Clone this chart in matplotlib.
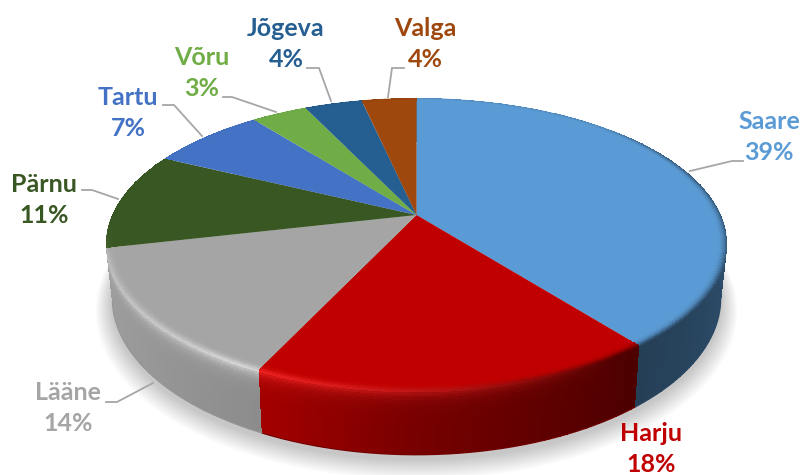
import numpy as np
import matplotlib
matplotlib.use("Agg")
import matplotlib.pyplot as plt
from matplotlib.colors import to_rgb
from matplotlib.patches import Polygon
from matplotlib.transforms import Transform

#Chart data, shares are a bit finer than the printed labels
counties=["Saare","Harju","Lääne","Pärnu","Tartu","Võru","Jõgeva","Valga"]
shares=[39.4,17.6,14.4,10.8,7.2,3.49,3.65,3.46]
percentLabels=["39%","18%","14%","11%","7%","3%","4%","4%"]
sliceColors=["#5B9BD5","#C00000","#A5A5A5","#385723","#4472C4","#70AD47","#255E91","#9E480E"]
textColors=["#5B9BD5","#C00000","#A5A5A5","#385723","#4472C4","#70AD47","#255E91","#9E480E"]

#Where the labels sit (pixels)
labelX=[769,651,68,44,128,202,286,425]
labelY=[137,449,408,200,113,73,44,44]

#Leader lines, Harju has none
leaders=[[(690,171),(732,161),(743,161)],
         None,
         [(153,383),(117,402),(106,402)],
         [(118,199),(92,190),(82,190)],
         [(202,136),(174,105),(163,105)],
         [(276,112),(232,97),(223,97)],
         [(331,101),(319,68),(307,68)],
         [(388,97),(392,68),(404,68)]]

#Pie geometry in pixels
cx=416.5
cy=215.0
rx=304.3
ry=140.2
tilt=0.1986
depth=52.0


def project(x,y,drop=0.0):
    #Unit circle to screen with a bit of perspective
    w=1+tilt*y
    shrink=1-0.02*drop/depth
    return cx+rx*x/w*shrink, cy-ry*y/w+drop/w


class Perspective(Transform):
    input_dims=2
    output_dims=2

    def transform_non_affine(self,values):
        values=np.asarray(values)
        X,Y=project(values[:,0],values[:,1])
        return np.column_stack([X,Y])


def sideShade(x):
    return np.interp(x,[-1,-0.4,0,0.6,0.8,1],[0.96,0.84,0.62,0.40,0.44,0.50])


def rimColor(base,x,y):
    #Colour right on the top edge: highlight in front left, dark on the right
    glow=np.interp(x,[-1,-0.5,0.1,0.55],[0.5,0.85,0.45,0.0])*np.interp(y,[-0.3,-0.05],[1,0])
    shade=sideShade(x)[...,None]
    col=base*shade
    lit=np.clip(base*1.12+0.16,0,1)
    return col+(lit-col)*glow[...,None]


def drawSide(ax,base,t1,t2):
    th=np.radians(np.linspace(t1,t2,max(int(t2-t1)*4,8)))
    drops=np.linspace(0,depth,27)
    TH,D=np.meshgrid(th,drops,indexing="ij")
    x=np.cos(TH)
    y=np.sin(TH)
    X,Y=project(x,y,D)
    base=np.array(base)
    side=base*sideShade(x)[...,None]
    rim=rimColor(base,x,y)
    u=np.exp(-D/5.0)[...,None]
    rgb=side+(rim-side)*u
    ax.pcolormesh(X,Y,rgb[:-1,:-1],shading="flat",zorder=2)
    #soften the bottom edge
    ax.plot(X[:,-1],Y[:,-1],color=tuple(base*np.mean(sideShade(x[:,-1]))),lw=0.8,zorder=2)


def drawBevel(ax,base,t1,t2):
    th=np.radians(np.linspace(t1,t2,max(int(t2-t1)*4,8)))
    radii=np.linspace(0.965,1.0,13)
    TH,R=np.meshgrid(th,radii,indexing="ij")
    cosT=np.cos(TH)
    sinT=np.sin(TH)
    X,Y=project(R*cosT,R*sinT)
    base=np.array(base)
    rim=rimColor(base,cosT,sinT)
    amount=np.maximum(np.interp(sinT,[-0.3,0.2],[1,0.25]),np.interp(cosT,[0.6,0.95],[0,1]))
    u=(((R-0.965)/0.035)**2.5*amount)[...,None]
    rgb=base+(rim-base)*u
    ax.pcolormesh(X,Y,rgb[:-1,:-1],shading="flat",zorder=4)


fig,ax=plt.subplots(figsize=(8.03,4.75),dpi=100)
fig.subplots_adjust(left=0,right=1,bottom=0,top=1)

wedges,_=ax.pie(shares,colors=sliceColors,startangle=90,counterclock=False)
ax.set_aspect("auto")
ax.set_xlim(0,803)
ax.set_ylim(475,0)
ax.axis("off")

persp=Perspective()+ax.transData
for wedge in wedges:
    wedge.set_transform(persp)
    wedge.set_zorder(3)
    wedge.set_linewidth(0)

#Soft shadow under the pie
ring=np.radians(np.linspace(0,360,240))
for i in range(14):
    grow=1+0.004*(14-i)
    sx,sy=project(grow*np.cos(ring),grow*np.sin(ring),depth+9-i*0.4)
    ax.add_patch(Polygon(np.column_stack([sx,sy]),closed=True,facecolor="black",alpha=0.014,lw=0,zorder=1))

#Side wall first, then the top, then the rounded edge
#Only the slices that face the viewer show a wall
for wedge,color in zip(wedges,sliceColors):
    mid=np.radians((wedge.theta1+wedge.theta2)/2)
    if np.sin(mid)<0 or np.cos(mid)>0:
        drawSide(ax,to_rgb(color),wedge.theta1,wedge.theta2)
    drawBevel(ax,to_rgb(color),wedge.theta1,wedge.theta2)

for line in leaders:
    if line is None:
        continue
    lx=[p[0] for p in line]
    ly=[p[1] for p in line]
    ax.plot(lx,ly,color="#A6A6A6",lw=1.3,zorder=5,solid_joinstyle="miter")

for i in range(len(counties)):
    ax.text(labelX[i],labelY[i],counties[i]+"\n"+percentLabels[i],color=textColors[i],
            family="Lato",weight="bold",fontsize=18,ha="center",va="center",
            linespacing=1.44,zorder=6,clip_on=False)

ax.set_xlim(0,803)
ax.set_ylim(475,0)
fig.savefig("out.png",dpi=100)
